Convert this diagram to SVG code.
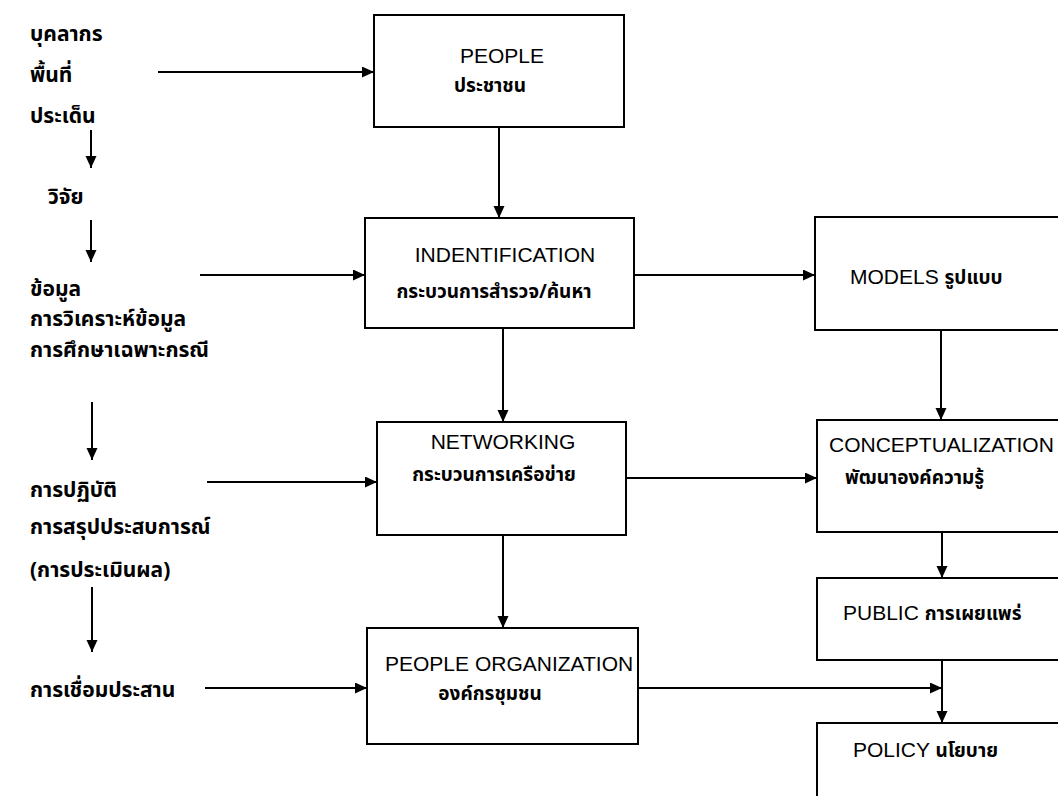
<svg xmlns="http://www.w3.org/2000/svg" width="1058" height="796" viewBox="0 0 1058 796">
<defs>
<marker id="ah" markerUnits="userSpaceOnUse" markerWidth="14" markerHeight="12" refX="12" refY="5.5" orient="auto">
<path d="M0,0 L12,5.5 L0,11 Z" fill="#000"/>
</marker>
<style>
.box{fill:#fff;stroke:#000;stroke-width:2}
.en{font-family:"Liberation Sans",Arial,sans-serif;font-size:21px;fill:#000}
.th{font-family:"Noto Sans Thai","Liberation Sans",sans-serif;font-size:19px;font-weight:bold;fill:#000}
.lt{font-family:"Noto Sans Thai","Liberation Sans",sans-serif;font-size:21px;font-weight:bold;fill:#000}
.c{stroke:#000;stroke-width:2;fill:none;marker-end:url(#ah)}
</style>
</defs>
<rect width="1058" height="796" fill="#fff"/>
<g id="left-labels">
<text class="lt" x="30" y="41">บุคลากร</text>
<text class="lt" x="30" y="82">พื้นที่</text>
<text class="lt" x="30" y="123">ประเด็น</text>
<text class="lt" x="48" y="204">วิจัย</text>
<text class="lt" x="30" y="296">ข้อมูล</text>
<text class="lt" x="30" y="326">การวิเคราะห์ข้อมูล</text>
<text class="lt" x="30" y="357">การศึกษาเฉพาะกรณี</text>
<text class="lt" x="30" y="497">การปฏิบัติ</text>
<text class="lt" x="30" y="534">การสรุปประสบการณ์</text>
<text class="lt" x="30" y="577">(การประเมินผล)</text>
<text class="lt" x="30" y="697">การเชื่อมประสาน</text>
</g>
<g id="people">
<rect class="box" x="374" y="15" width="250" height="112"/>
<text class="en" x="502" y="63" text-anchor="middle">PEOPLE</text>
<text class="th" x="490" y="92" text-anchor="middle">ประชาชน</text>
</g>
<g id="identification">
<rect class="box" x="365" y="218" width="269" height="110"/>
<text class="en" x="505" y="262" text-anchor="middle">INDENTIFICATION</text>
<text class="th" x="494" y="298" text-anchor="middle">กระบวนการสำรวจ/ค้นหา</text>
</g>
<g id="networking">
<rect class="box" x="377" y="422" width="249" height="113"/>
<text class="en" x="503" y="449" text-anchor="middle">NETWORKING</text>
<text class="th" x="494" y="481" text-anchor="middle">กระบวนการเครือข่าย</text>
</g>
<g id="people-organization">
<rect class="box" x="367" y="628" width="271" height="116"/>
<text class="en" x="385" y="671">PEOPLE ORGANIZATION</text>
<text class="th" x="490" y="700" text-anchor="middle">องค์กรชุมชน</text>
</g>
<g id="models">
<rect class="box" x="815" y="217" width="260" height="113"/>
<text class="en" x="850" y="284">MODELS <tspan class="th">รูปแบบ</tspan></text>
</g>
<g id="conceptualization">
<rect class="box" x="817" y="420" width="260" height="112"/>
<text class="en" x="829" y="452">CONCEPTUALIZATION</text>
<text class="th" x="845" y="484">พัฒนาองค์ความรู้</text>
</g>
<g id="public">
<rect class="box" x="817" y="578" width="260" height="82"/>
<text class="en" x="843" y="620">PUBLIC <tspan class="th">การเผยแพร่</tspan></text>
</g>
<g id="policy">
<rect class="box" x="817" y="723" width="260" height="100"/>
<text class="en" x="853" y="757">POLICY <tspan class="th">นโยบาย</tspan></text>
</g>
<g id="connectors">
<line class="c" x1="158" y1="72" x2="374" y2="72"/>
<line class="c" x1="499" y1="127" x2="499" y2="218"/>
<line class="c" x1="91" y1="130" x2="91" y2="168"/>
<line class="c" x1="91" y1="220" x2="91" y2="262"/>
<line class="c" x1="200" y1="275" x2="365" y2="275"/>
<line class="c" x1="634" y1="275" x2="815" y2="275"/>
<line class="c" x1="941" y1="330" x2="941" y2="420"/>
<line class="c" x1="503" y1="328" x2="503" y2="422"/>
<line class="c" x1="92" y1="402" x2="92" y2="460"/>
<line class="c" x1="207" y1="482" x2="377" y2="482"/>
<line class="c" x1="626" y1="478" x2="817" y2="478"/>
<line class="c" x1="942" y1="532" x2="942" y2="578"/>
<line class="c" x1="503" y1="535" x2="503" y2="628"/>
<line class="c" x1="92" y1="587" x2="92" y2="652"/>
<line class="c" x1="205" y1="688" x2="367" y2="688"/>
<line class="c" x1="638" y1="688" x2="942" y2="688"/>
<line class="c" x1="942" y1="660" x2="942" y2="723"/>
</g>
</svg>
